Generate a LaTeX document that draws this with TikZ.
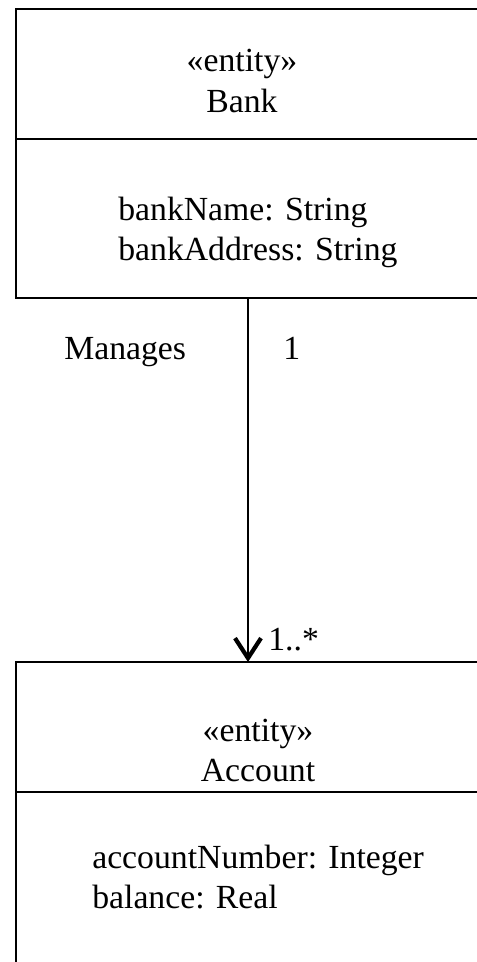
\documentclass[tikz,border=0pt]{standalone}
\usepackage{fontspec}
\setmainfont{Liberation Serif}
\usetikzlibrary{arrows.meta, positioning}

\begin{document}
\begin{tikzpicture}[
  node distance=9.1cm,
  classhead/.style={draw, line width=1.7pt, minimum width=12.1cm, minimum height=3.25cm,
                    outer sep=0pt, inner sep=0pt},
  classbody/.style={draw, line width=1.7pt, minimum width=12.1cm,
                    outer sep=0pt, inner sep=0pt},
  txt/.style={font=\fontsize{24}{28.5}\selectfont, inner sep=0pt, align=center},
  attr/.style={font=\fontsize{24}{28.5}\selectfont, inner sep=0pt, align=left},
  lbl/.style={font=\fontsize{24}{28.5}\selectfont, inner sep=0pt},
  assoc/.style={-{Straight Barb[length=5mm, width=6.5mm, line width=3pt]}, line width=1.7pt},
]

  \useasboundingbox (0,0) rectangle (11.925,-24.05);

  % Bank class
  \node[classhead, anchor=north west] (bankhead) at (0.4,-0.225) {};
  \node[classbody, minimum height=3.975cm, below=0cm of bankhead] (bankbody) {};
  \node[txt] (bankname) at (6.05,-2.025) {«entity»\\Bank};
  \node[attr, anchor=west] (bankattr) at (2.95,-5.8) {bankName: String\\bankAddress: String};

  % Account class
  \node[classhead, below=of bankbody] (accthead) {};
  \node[classbody, minimum height=5.2cm, below=0cm of accthead] (acctbody) {};
  \node[txt] (acctname) at (6.45,-18.76) {«entity»\\Account};
  \node[attr, anchor=west] (acctattr) at (2.3,-21.925) {accountNumber: Integer\\balance: Real};

  % association
  \draw[assoc] ([xshift=-0.25cm]bankbody.south) -- ([xshift=-0.25cm]accthead.north);
  \node[lbl, anchor=base west] (manages) at (1.6,-8.975) {Manages};
  \node[lbl, anchor=base west] (srcmult) at (7.075,-8.975) {1};
  \node[lbl, anchor=base west] (dstmult) at (6.7,-16.25) {1..*};

\end{tikzpicture}
\end{document}
